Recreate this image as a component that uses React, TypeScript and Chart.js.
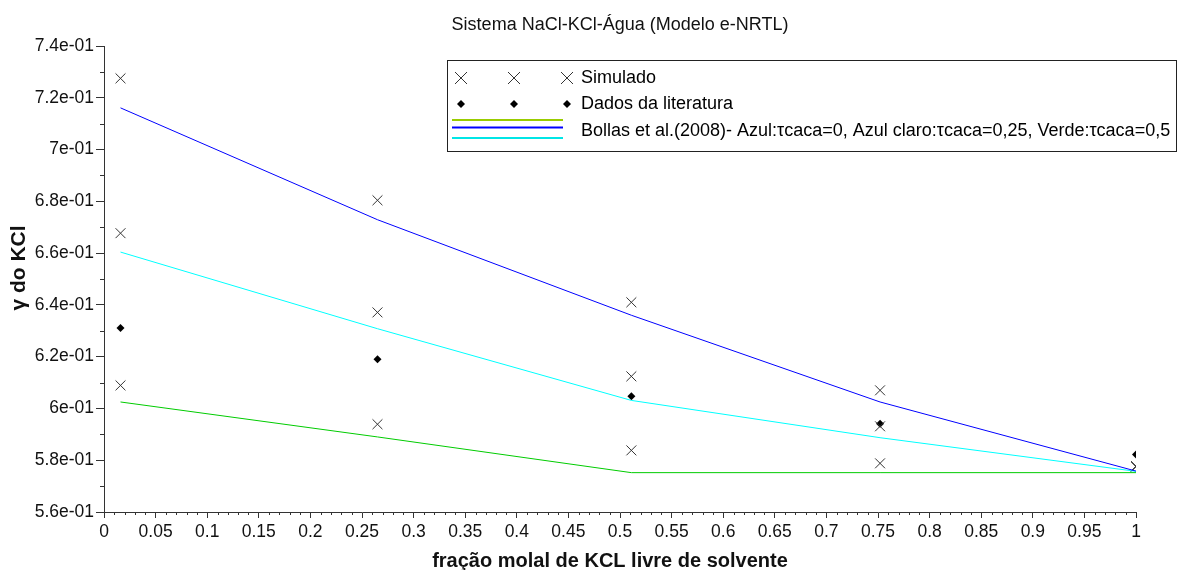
import React, { useEffect, useRef } from "react";
import { Chart, registerables } from "chart.js";

Chart.register(...registerables);

// x: fração molal de KCl livre de solvente
const xValues = [0.016, 0.265, 0.511, 0.752, 1.0];
// Simulado (three sets: τcaca=0, 0.25, 0.5)
const simuladoAzul = [0.7275, 0.6804, 0.641, 0.607, 0.5776];
const simuladoAzulClaro = [0.6677, 0.6371, 0.6124, 0.5931, 0.5776];
const simuladoVerde = [0.6089, 0.5939, 0.5838, 0.5788, 0.5776];
// Dados da literatura
const literatura = [0.6311, 0.619, 0.6047, 0.5941, 0.5822];
// Bollas et al. (2008)
const bollasAzul = [0.7161, 0.6729, 0.636, 0.6025, 0.5758];
const bollasAzulClaro = [0.6604, 0.6308, 0.6031, 0.5887, 0.5757];
const bollasVerde = [0.6025, 0.589, 0.5752, 0.5752, 0.5752];

const titleText = "Sistema NaCl-KCl-Água (Modelo e-NRTL)";
const xTitle = "fração molal de KCL livre de solvente";
const yTitle = "γ do KCl";
const legendLabels = [
  "Simulado",
  "Dados da literatura",
  "Bollas et al.(2008)- Azul:τcaca=0, Azul claro:τcaca=0,25, Verde:τcaca=0,5",
];

const FONT = "'Liberation Sans', Arial, Helvetica, sans-serif";
const AXIS_COLOR = "#333";

const pts = (ys: number[]) => xValues.map((x, i) => ({ x, y: ys[i] }));

const fmtY = (v: number) => {
  let m = (v * 10).toFixed(1);
  if (m.endsWith(".0")) m = m.slice(0, -2);
  return m + "e-01";
};
const fmtX = (v: number) => {
  const r = Math.round(v * 100) / 100;
  return String(r);
};

const decorPlugin = {
  id: "decor",
  afterDraw(chart: any) {
    const { ctx, chartArea, scales } = chart;
    const xs = scales.x;
    const ys = scales.y;
    ctx.save();
    // minor ticks
    ctx.strokeStyle = AXIS_COLOR;
    ctx.lineWidth = 1;
    ctx.beginPath();
    for (let i = 0; i <= 100; i++) {
      if (i % 5 === 0) continue;
      const px = Math.round(xs.getPixelForValue(i / 100)) + 0.5;
      ctx.moveTo(px, chartArea.bottom);
      ctx.lineTo(px, chartArea.bottom + 3);
    }
    for (let i = 56; i <= 74; i++) {
      if (i % 2 === 0) continue;
      const py = Math.round(ys.getPixelForValue(i / 100)) + 0.5;
      ctx.moveTo(chartArea.left - 4, py);
      ctx.lineTo(chartArea.left, py);
    }
    ctx.stroke();

    // title
    ctx.fillStyle = "#111";
    ctx.textAlign = "center";
    ctx.textBaseline = "middle";
    ctx.font = `18px ${FONT}`;
    ctx.fillText(titleText, (chartArea.left + chartArea.right) / 2, 25);

    // x title
    ctx.font = `bold 20px ${FONT}`;
    ctx.fillText(xTitle, 610, 561);

    // y title
    ctx.save();
    ctx.translate(19, 268);
    ctx.rotate(-Math.PI / 2);
    ctx.font = `bold 21px ${FONT}`;
    ctx.fillText(yTitle, 0, 0);
    ctx.restore();

    // legend
    ctx.fillStyle = "#fff";
    ctx.fillRect(447.5, 60.5, 729, 91);
    ctx.strokeStyle = "#222";
    ctx.strokeRect(447.5, 60.5, 729, 91);
    const mx = [461, 514, 567];
    ctx.strokeStyle = "#333";
    ctx.beginPath();
    for (const x of mx) {
      const y = 78;
      ctx.moveTo(x - 6, y - 6);
      ctx.lineTo(x + 6, y + 6);
      ctx.moveTo(x + 6, y - 6);
      ctx.lineTo(x - 6, y + 6);
    }
    ctx.stroke();
    ctx.fillStyle = "#000";
    for (const x of mx) {
      const y = 104;
      ctx.beginPath();
      ctx.moveTo(x, y - 4);
      ctx.lineTo(x + 4, y);
      ctx.lineTo(x, y + 4);
      ctx.lineTo(x - 4, y);
      ctx.closePath();
      ctx.fill();
    }
    const lines: [string, number][] = [
      ["#99cc00", 120],
      ["#0000ff", 127.5],
      ["#00e6e6", 138],
    ];
    ctx.lineWidth = 2;
    for (const [c, y] of lines) {
      ctx.strokeStyle = c;
      ctx.beginPath();
      ctx.moveTo(452, y);
      ctx.lineTo(563, y);
      ctx.stroke();
    }
    ctx.fillStyle = "#000";
    ctx.textAlign = "left";
    ctx.font = `18px ${FONT}`;
    ctx.fillText(legendLabels[0], 581, 78);
    ctx.fillText(legendLabels[1], 581, 104);
    ctx.fillText(legendLabels[2], 581, 131);
    ctx.restore();
  },
};

export default function App() {
  const ref = useRef<HTMLCanvasElement | null>(null);
  useEffect(() => {
    if (!ref.current) return;
    const markerX = {
      pointStyle: "crossRot" as const,
      pointRadius: 7,
      pointBorderWidth: 1,
      borderColor: "#333",
      backgroundColor: "#333",
      showLine: false,
    };
    const lineDs = (label: string, data: number[], color: string) => ({
      label,
      data: pts(data),
      showLine: true,
      borderColor: color,
      backgroundColor: color,
      borderWidth: 1,
      pointRadius: 0,
      tension: 0,
    });
    const chart = new Chart(ref.current, {
      type: "scatter",
      data: {
        datasets: [
          lineDs("Bollas azul", bollasAzul, "#0000ff"),
          lineDs("Bollas azul claro", bollasAzulClaro, "#00ffff"),
          lineDs("Bollas verde", bollasVerde, "#00cc00"),
          { label: "Simulado", data: pts(simuladoAzul), ...markerX },
          { label: "Simulado", data: pts(simuladoAzulClaro), ...markerX },
          { label: "Simulado", data: pts(simuladoVerde), ...markerX },
          {
            label: "Dados da literatura",
            data: pts(literatura),
            pointStyle: "rectRot",
            pointRadius: 4,
            pointBorderWidth: 0,
            backgroundColor: "#000",
            borderColor: "#000",
            showLine: false,
          },
        ],
      },
      options: {
        animation: false,
        responsive: false,
        layout: { padding: { top: 46, right: 42, left: 0, bottom: 0 } },
        plugins: {
          legend: { display: false },
          tooltip: { enabled: false },
          title: { display: false },
        },
        scales: {
          x: {
            type: "linear",
            min: 0,
            max: 1,
            afterFit: (s: any) => {
              s.height = 58;
            },
            border: { display: true, color: AXIS_COLOR, width: 1 },
            grid: {
              drawOnChartArea: false,
              drawTicks: true,
              tickLength: 6,
              tickColor: AXIS_COLOR,
            },
            ticks: {
              stepSize: 0.05,
              autoSkip: false,
              maxRotation: 0,
              padding: 4,
              color: "#111",
              font: { family: FONT, size: 17.5 },
              callback: (v: any) => fmtX(Number(v)),
            },
          },
          y: {
            type: "linear",
            min: 0.56,
            max: 0.74,
            afterFit: (s: any) => {
              s.width = 104;
            },
            border: { display: true, color: AXIS_COLOR, width: 1 },
            grid: {
              drawOnChartArea: false,
              drawTicks: true,
              tickLength: 8,
              tickColor: AXIS_COLOR,
            },
            ticks: {
              stepSize: 0.02,
              padding: 2,
              color: "#111",
              font: { family: FONT, size: 17.5 },
              callback: (v: any) => fmtY(Number(v)),
            },
          },
        },
      },
      plugins: [decorPlugin],
    } as any);
    return () => chart.destroy();
  }, []);
  return (
    <div style={{ position: "fixed", left: 0, top: 0, width: 1178, height: 570, background: "#fff" }}>
      <canvas ref={ref} width={1178} height={570} style={{ display: "block" }} />
    </div>
  );
}
